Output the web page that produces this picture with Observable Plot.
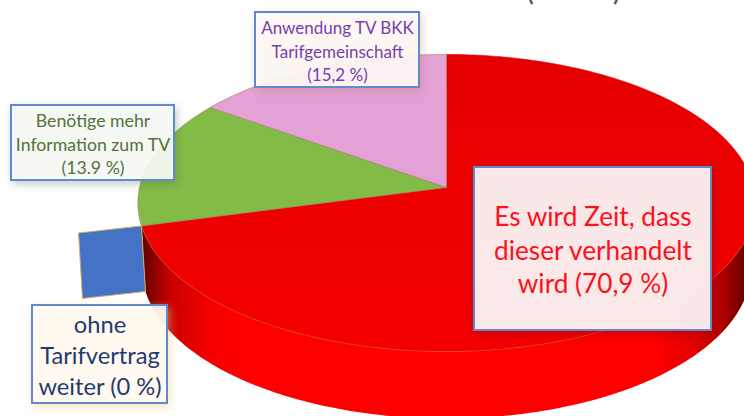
<!DOCTYPE html>
<html>
<head>
<meta charset="utf-8">
<script src="https://cdn.jsdelivr.net/npm/d3@7"></script>
<script src="https://cdn.jsdelivr.net/npm/@observablehq/plot@0.6"></script>
<style>html,body{margin:0;padding:0;background:#fff;overflow:hidden}svg{display:block}</style>
</head>
<body>
<div id="chart"></div>
<script>
// Data, in pie order clockwise from the top
const categories = ["Es wird Zeit, dass dieser verhandelt wird", "ohne Tarifvertrag weiter", "Benötige mehr Information zum TV", "Anwendung TV BKK Tarifgemeinschaft"];
const values = [70.9, 0, 13.9, 15.2];
const sliceColors = ["url(#topRed)", "#4472c4", "#83bb47", "#e3a1d6"];
const labels = ["Es wird Zeit, dass\ndieser verhandelt\nwird (70,9 %)", "ohne\nTarifvertrag\nweiter (0 %)", "Benötige mehr\nInformation zum TV\n(13.9 %)", "Anwendung TV BKK\nTarifgemeinschaft\n(15,2 %)"];
const labelColors = ["#fb1220", "#1f3b70", "#50723a", "#7540ae"];
const labelSizes = [26.2, 23.7, 17.7, 17];
const labelPitch = [33.5, 31, 23.5, 23.5];
const labelFills = ["#ffffff", "#fffbf5", "#fbfcf9", "#fffbf8"];
const labelShadows = ["rgba(130,0,0,.4)", "rgba(240,205,120,.55)", "rgba(70,105,60,.35)", "rgba(190,120,90,.35)"];
const boxLeft = [474, 32, 11, 255];
const boxRight = [711, 167, 174, 419];
const boxTop = [167, 305, 105, 12];
const boxBottom = [330, 403, 180, 87];

// Tilted-disc projection of the pie
const cx = 446, cy = 187, R = 307, a = 127.4, c = -0.1044;
const project = (t) => {
  const u = Math.sin(t), v = -Math.cos(t), d = 1 + c * v;
  return {x: cx + R * u / d, y: (a * v + cy) / d, v};
};
const lower = (t) => {
  const p = project(t);
  return {x: cx + (p.x - cx) * 0.987, y: p.y + 65 + 2 * p.v};
};
const arcs = d3.pie().sort(null).value((d) => d)(values);
const steps = (t0, t1) => {
  const n = Math.max(2, Math.ceil(Math.abs(t1 - t0) * 60));
  return d3.range(n + 1).map((i) => t0 + (t1 - t0) * i / n);
};
const wallStart = Math.PI * 0.42;
const wallEnd = arcs[0].endAngle;
const wall = [...steps(wallStart, wallEnd).map(project), ...steps(wallEnd, wallStart).map(lower)];
const rim = steps(wallStart, wallEnd).map(project);
const slices = arcs.map((s) => [{x: cx, y: cy}, ...steps(s.startAngle, s.endAngle).map(project), {x: cx, y: cy}]);

// The empty slice is drawn as a flat panel at its wall
const zero = project(arcs[1].startAngle), zeroLow = lower(arcs[1].startAngle);
const panelShift = {x: -63, y: 7};
const panel = [zero, zeroLow, {x: zeroLow.x + panelShift.x, y: zeroLow.y + panelShift.y}, {x: zero.x + panelShift.x, y: zero.y + panelShift.y}, zero];

const defs = () => {
  const d = d3.create("svg:defs");
  const grad = (id, attrs, stops) => {
    const g = d.append("linearGradient").attr("id", id).attr("gradientUnits", "userSpaceOnUse");
    Object.entries(attrs).forEach(([k, v]) => g.attr(k, v));
    stops.forEach(([o, col]) => g.append("stop").attr("offset", o).attr("stop-color", col));
  };
  grad("topRed", {x1: 0, y1: 54, x2: 0, y2: 351}, [[0, "#e30000"], [0.5, "#ee0000"], [1, "#f40000"]]);
  grad("wallRed", {x1: 141, y1: 0, x2: 746, y2: 0}, [
    [0, "#5c0000"], [0.02, "#8c0000"], [0.05, "#cc0000"], [0.11, "#f40000"], [0.17, "#ff0000"],
    [0.85, "#fd0000"], [0.91, "#e40000"], [0.95, "#c00000"], [0.98, "#8c0000"], [1, "#600000"]
  ]);
  return d.node();
};

const marks = [
  defs,
  Plot.line(wall, {x: "x", y: "y", fill: "url(#wallRed)", stroke: "none", curve: "linear"}),
  ...slices.map((pts, i) => values[i] > 0 ? Plot.line(pts, {x: "x", y: "y", fill: sliceColors[i], stroke: i === 0 ? "#e30000" : "#a8786a", strokeWidth: 0.6, curve: "linear"}) : null),
  Plot.line(rim, {x: "x", y: "y", stroke: "#c9661c", strokeWidth: 0.7, strokeOpacity: 0.8, curve: "linear"}),
  Plot.line(panel, {x: "x", y: "y", fill: sliceColors[1], stroke: "#d4ae5c", strokeWidth: 1, curve: "linear"}),
  Plot.text(["(", ")"], {x: [530, 616], y: [-7, -7], text: (d) => d, fontSize: 23, fontFamily: "Lato", fontWeight: "bold", fill: "#555555"})
];
categories.forEach((name, i) => {
  marks.push(Plot.rect([name], {
    x1: [boxLeft[i]], x2: [boxRight[i]], y1: [boxTop[i]], y2: [boxBottom[i]],
    fill: labelFills[i], fillOpacity: 0.91, stroke: "#6288d0", strokeWidth: 2,
    imageFilter: `drop-shadow(2px 3px 4px ${labelShadows[i]})`
  }));
  marks.push(Plot.text([labels[i]], {
    x: [(boxLeft[i] + boxRight[i]) / 2], y: [(boxTop[i] + boxBottom[i]) / 2],
    text: (d) => d, fill: labelColors[i], fontSize: labelSizes[i], fontFamily: "Lato",
    lineHeight: labelPitch[i] / labelSizes[i], textAnchor: "middle"
  }));
});

const chart = Plot.plot({
  width: 744, height: 416, margin: 0,
  x: {domain: [0, 744], range: [0, 744], axis: null},
  y: {domain: [0, 416], range: [0, 416], axis: null},
  style: {background: "#fff"},
  marks
});
document.getElementById("chart").append(chart);
</script>
</body>
</html>
